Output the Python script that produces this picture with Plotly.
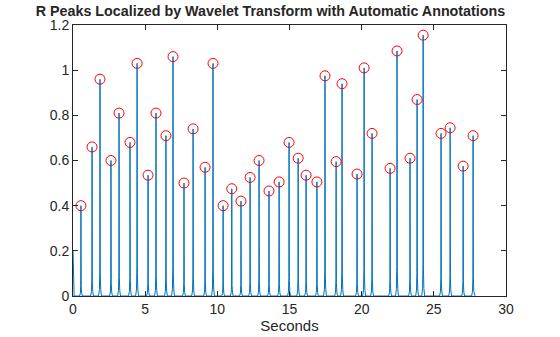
import plotly.graph_objects as go

# R-peak locations (s) and wavelet-envelope amplitudes
peak_times = [0.55, 1.32, 1.87, 2.63, 3.19, 3.95, 4.44, 5.20, 5.75, 6.44,
              6.93, 7.69, 8.32, 9.15, 9.70, 10.40, 11.00, 11.64, 12.27, 12.89,
              13.58, 14.28, 14.97, 15.60, 16.15, 16.90, 17.46, 18.23, 18.64, 19.68,
              20.17, 20.72, 21.97, 22.45, 23.35, 23.84, 24.26, 25.50, 26.13, 27.03,
              27.72]
peak_values = [0.40, 0.66, 0.96, 0.60, 0.81, 0.68, 1.03, 0.535, 0.81, 0.71,
               1.06, 0.50, 0.74, 0.57, 1.03, 0.40, 0.475, 0.42, 0.525, 0.60,
               0.465, 0.505, 0.68, 0.61, 0.535, 0.505, 0.975, 0.595, 0.94, 0.54,
               1.01, 0.72, 0.565, 1.085, 0.61, 0.87, 1.155, 0.72, 0.745, 0.575,
               0.71]

# signal start and end
start_value = 0.20
end_time = 27.85

xtick_vals = [0, 5, 10, 15, 20, 25, 30]
ytick_vals = [0, 0.2, 0.4, 0.6, 0.8, 1.0, 1.2]
ytick_text = ["0", "0.2", "0.4", "0.6", "0.8", "1", "1.2"]

# shape of each QRS spike in the envelope: time offset, fraction of peak
spike_dt = [-0.10, -0.04, -0.015, -0.005, 0.0, 0.006, 0.02, 0.05, 0.10]
spike_frac = [0.0, 0.03, 0.12, 0.55, 1.0, 0.5, 0.10, 0.03, 0.0]

sig_t = [0.0, 0.03, 0.08]
sig_y = [start_value, 0.03, 0.0]
for t, v in zip(peak_times, peak_values):
    for dt, f in zip(spike_dt, spike_frac):
        sig_t.append(t + dt)
        sig_y.append(v * f)
sig_t.append(end_time)
sig_y.append(0.0)

fig = go.Figure()
fig.add_trace(go.Scatter(
    x=sig_t, y=sig_y, mode="lines",
    line=dict(color="#0072BD", width=1),
    showlegend=False, hoverinfo="skip",
))
fig.add_trace(go.Scatter(
    x=peak_times, y=peak_values, mode="markers",
    marker=dict(symbol="circle-open", size=10, color="#FF0000",
                line=dict(width=1, color="#FF0000")),
    showlegend=False,
))

axis_common = dict(
    showline=True, linecolor="#262626", linewidth=1, mirror="ticks",
    ticks="inside", ticklen=5, tickcolor="#262626",
    showgrid=False, zeroline=False, automargin=False,
    tickfont=dict(family="Liberation Sans, Arial", size=14, color="#262626"),
)

fig.update_layout(
    width=560, height=337,
    margin=dict(l=73, r=54, t=25, b=41),
    paper_bgcolor="white", plot_bgcolor="white",
    title=dict(
        text="<b>R Peaks Localized by Wavelet Transform with Automatic Annotations</b>",
        font=dict(family="Liberation Sans, Arial", size=14.3, color="#262626"),
        x=0.483, xref="container", xanchor="center",
        y=0.968, yref="container", yanchor="middle",
        automargin=False,
    ),
    xaxis=dict(range=[0, 30], tickvals=xtick_vals,
               title=dict(text="Seconds", standoff=2,
                          font=dict(family="Liberation Sans, Arial", size=15,
                                    color="#262626")),
               **axis_common),
    yaxis=dict(range=[0, 1.2], tickvals=ytick_vals, ticktext=ytick_text,
               **axis_common),
)

fig.write_html("out.html")
